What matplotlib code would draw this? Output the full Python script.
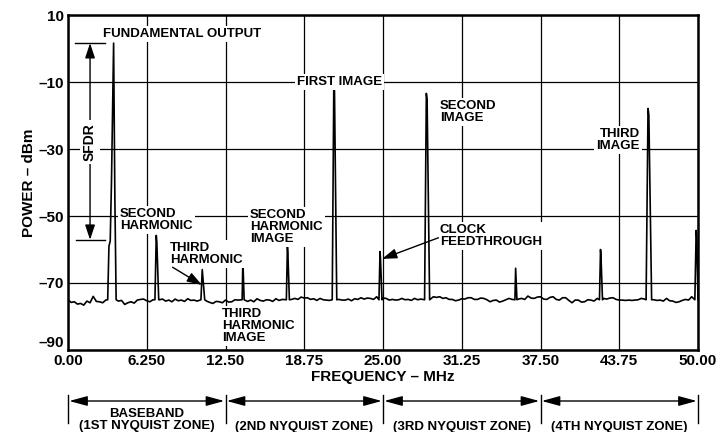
import numpy as np
import matplotlib
matplotlib.use("Agg")
import matplotlib.pyplot as plt
from matplotlib import transforms

plt.rcParams['font.family'] = ['Liberation Sans', 'DejaVu Sans']
plt.rcParams['font.weight'] = 'bold'
plt.rcParams['axes.labelweight'] = 'bold'

# noise floor, read every 0.25 MHz from 0 to 50 MHz
noise_step = 0.25
noise_dbm = [
    -75.0, -75.8, -75.6, -76.3, -76.1, -76.6, -75.4, -75.9, -74.0, -75.5,
    -75.6, -75.9, -75.1, -75.2, -75.2, -75.3, -75.4, -75.2, -76.4, -75.9,
    -75.6, -76.0, -75.1, -74.9, -74.8, -75.3, -75.6, -75.0, -75.0, -75.0,
    -74.8, -75.4, -75.1, -75.6, -74.8, -75.3, -75.1, -75.5, -74.7, -75.2,
    -75.1, -75.4, -75.2, -75.2, -75.4, -75.8, -76.1, -75.5, -75.6, -75.9,
    -75.1, -75.7, -75.6, -75.0, -75.1, -75.0, -74.8, -75.5, -75.1, -75.6,
    -74.7, -75.2, -75.4, -75.0, -75.1, -75.5, -74.7, -75.2, -74.9, -75.0,
    -75.0, -74.9, -74.6, -74.9, -74.2, -74.5, -74.4, -74.9, -74.7, -75.2,
    -74.6, -75.0, -75.1, -75.2, -75.0, -75.0, -74.9, -75.1, -75.1, -74.8,
    -75.3, -74.7, -74.9, -74.4, -74.8, -74.5, -74.6, -74.9, -74.1, -74.5,
    -74.5, -74.6, -75.1, -74.9, -75.1, -75.0, -74.6, -75.0, -74.9, -75.2,
    -74.6, -75.0, -74.8, -74.8, -74.8, -74.8, -74.1, -74.3, -74.1, -74.6,
    -74.4, -74.9, -74.9, -75.3, -75.1, -74.7, -74.8, -74.4, -74.4, -74.9,
    -74.9, -74.5, -74.6, -75.0, -75.6, -75.2, -75.1, -75.7, -75.4, -75.0,
    -74.6, -74.9, -74.8, -74.8, -74.6, -74.9, -73.9, -74.5, -74.6, -74.2,
    -74.1, -74.8, -74.9, -74.3, -74.1, -74.9, -75.1, -74.4, -74.4, -75.2,
    -75.9, -75.1, -75.1, -75.7, -75.6, -75.0, -75.1, -75.4, -74.6, -74.6,
    -74.6, -74.8, -74.5, -74.4, -74.9, -75.1, -75.1, -75.2, -75.1, -75.2,
    -75.1, -75.0, -74.6, -74.8, -74.8, -74.8, -75.0, -75.2, -75.1, -75.4,
    -74.6, -75.3, -75.4, -75.8, -75.6, -75.2, -74.9, -75.1, -74.1, -74.0,
    -74.0,
]

# fundamental with its shoulder on the left
fund_mhz = [3.15, 3.25, 3.35, 3.45, 3.62, 3.72, 3.82]
fund_dbm = [-75.0, -59.0, -57.5, -40.0, 1.6, -45.0, -75.0]

# other spurs and images
spur_mhz = [7.05, 10.7, 13.9, 17.45, 21.15, 24.8, 28.5, 35.55, 42.3, 46.1, 49.9]
spur_dbm = [-57.8, -68.0, -65.8, -61.0, -12.7, -62.6, -15.4, -67.6, -62.0, -19.9, -56.3]
spur_halfwidth = [0.15, 0.15, 0.08, 0.12, 0.18, 0.12, 0.2, 0.08, 0.12, 0.22, 0.15]

xticks = [0, 6.25, 12.5, 18.75, 25, 31.25, 37.5, 43.75, 50]
xticklabels = ['0.00', '6.250', '12.50', '18.75', '25.00', '31.25', '37.50', '43.75', '50.00']
yticks = [-90, -70, -50, -30, -10, 10]
yticklabels = ['\u201390', '\u201370', '\u201350', '\u201330', '\u201310', '10']

zones = [0, 12.5, 25, 37.5, 50]
zone_names = ['BASEBAND\n(1ST NYQUIST ZONE)', '(2ND NYQUIST ZONE)',
              '(3RD NYQUIST ZONE)', '(4TH NYQUIST ZONE)']

# build trace: noise points away from peaks, plus peak shapes
noise_mhz = np.arange(len(noise_dbm)) * noise_step
pts = []
centres = [np.mean(fund_mhz)] + spur_mhz
widths = [0.4] + spur_halfwidth
for f, p in zip(noise_mhz, noise_dbm):
    if all(abs(f - c) > w + 0.05 for c, w in zip(centres, widths)):
        pts.append((f, p))
pts += list(zip(fund_mhz, fund_dbm))
for f, p, w in zip(spur_mhz, spur_dbm, spur_halfwidth):
    right = min(f + w, 50.0)
    pts += [(f - w, -75.0), (f - w * 0.3, p + 2), (f, p), (right, -75.0)]
pts.sort()
tx = [a for a, b in pts]
ty = [b for a, b in pts]

fig = plt.figure(figsize=(7.18, 4.32), dpi=100)
ax = fig.add_axes([68 / 718, 1 - 350 / 432, 630 / 718, 335 / 432])

ax.plot(tx, ty, color='black', lw=1.2, zorder=2, clip_on=True)

ax.set_xlim(0, 50)
ax.set_ylim(-90, 10)
ax.set_xticks(xticks)
ax.set_xticklabels(xticklabels, fontweight='bold')
ax.set_yticks(yticks)
ax.set_yticklabels(yticklabels, fontweight='bold')
ax.tick_params(length=0, labelsize=11, pad=3)
ax.get_yticklabels()[0].set_va('bottom')
ax.set_axisbelow(True)
ax.grid(True, color='black', lw=0.9)
for s in ax.spines.values():
    s.set_linewidth(1.8)

ax.set_xlabel('FREQUENCY \u2013 MHz', fontsize=11, fontweight='bold', labelpad=1)
ax.set_ylabel('POWER \u2013 dBm', fontsize=11, fontweight='bold', labelpad=2)

box = dict(facecolor='white', edgecolor='none', pad=1.5)
tkw = dict(fontsize=9.5, fontweight='bold', va='center', linespacing=1.0, bbox=box, zorder=4)

ax.text(2.78, 4.3, 'FUNDAMENTAL OUTPUT', ha='left', **tkw)
ax.text(18.17, -10.0, 'FIRST IMAGE', ha='left', **tkw)
ax.text(29.52, -19.0, 'SECOND\nIMAGE', ha='left', **tkw)
ax.text(45.4, -27.3, 'THIRD\nIMAGE', ha='right', multialignment='right', **tkw)
ax.text(4.13, -51.2, 'SECOND\nHARMONIC', ha='left', **tkw)
ax.text(8.1, -61.3, 'THIRD\nHARMONIC', ha='left', **tkw)
ax.text(14.44, -53.3, 'SECOND\nHARMONIC\nIMAGE', ha='left', **tkw)
ax.text(12.22, -82.8, 'THIRD\nHARMONIC\nIMAGE', ha='left', **tkw)
ax.text(29.52, -56.0, 'CLOCK\nFEEDTHROUGH', ha='left', **tkw)

akw = dict(arrowstyle='-|>,head_length=0.9,head_width=0.3', color='black',
           lw=1.0, shrinkA=0, shrinkB=0, mutation_scale=10)
ax.annotate('', xy=(10.63, -70.6), xytext=(8.3, -65.3), arrowprops=akw, zorder=5)
ax.annotate('', xy=(24.92, -62.8), xytext=(29.4, -56.5), arrowprops=akw, zorder=5)

# SFDR marker
top = max(fund_dbm)
bot = spur_dbm[0] + 0.7
ax.plot([0.56, 2.94], [top, top], color='black', lw=1.0, zorder=3)
ax.plot([0.63, 2.94], [bot, bot], color='black', lw=1.0, zorder=3)
dkw = dict(akw)
dkw['arrowstyle'] = '<|-|>,head_length=0.9,head_width=0.3'
ax.annotate('', xy=(1.75, top), xytext=(1.75, bot), arrowprops=dkw, zorder=3)
ax.text(1.75, -27.9, 'SFDR', rotation=90, ha='center', va='center', fontsize=10,
        fontweight='bold', bbox=dict(facecolor='white', edgecolor='none', pad=2), zorder=4)

# Nyquist zones below the axis
trans = transforms.blended_transform_factory(ax.transData, fig.transFigure)
zkw = dict(arrowstyle='<|-|>,head_length=1.1,head_width=0.3', color='black',
           lw=1.0, shrinkA=0, shrinkB=0, mutation_scale=10)
for z in zones:
    ax.plot([z, z], [1 - 395 / 432, 1 - 423 / 432], color='black', lw=1.0,
            transform=trans, clip_on=False)
for i, name in enumerate(zone_names):
    a, b = zones[i], zones[i + 1]
    ax.annotate('', xy=(b - 0.1, 1 - 401 / 432), xytext=(a + 0.1, 1 - 401 / 432),
                xycoords=trans, textcoords=trans, arrowprops=zkw, annotation_clip=False)
    ax.text((a + b) / 2, 1 - 420 / 432 if '\n' in name else 1 - 427 / 432, name,
            transform=trans, ha='center', va='center', fontsize=9.5, fontweight='bold',
            linespacing=1.0, clip_on=False)

fig.savefig('out.png', dpi=100)
